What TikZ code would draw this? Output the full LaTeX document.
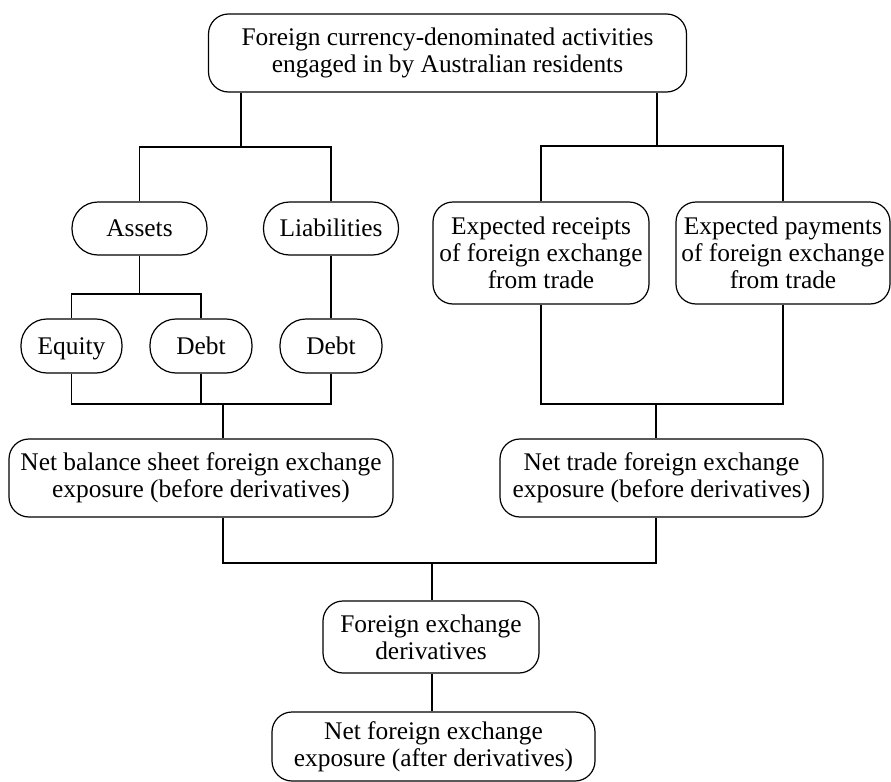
\documentclass[tikz,border=0pt]{standalone}
\usepackage{fontspec}
\setmainfont{Liberation Serif}
\begin{document}
\begin{tikzpicture}[x=0.5pt,y=-0.5pt,line width=0.6pt]
\tikzstyle{box}=[draw, rounded corners=10pt, align=center, inner sep=1pt, font=\fontsize{12.7}{13.4}\selectfont]
\tikzstyle{pill}=[box, rounded corners=13pt, text height=2ex, text depth=0.25ex]
\useasboundingbox (0,0) rectangle (891,782);

\node[box, minimum width=239pt, minimum height=39pt] (top) at (447.5,53) {Foreign currency-denominated activities\\engaged in by Australian residents};

\node[pill, minimum width=67.5pt, minimum height=26.5pt] (assets) at (139.5,228.5) {Assets};
\node[pill, minimum width=67.5pt, minimum height=26.5pt] (liab) at (331,228.5) {Liabilities};
\node[box, minimum width=108pt, minimum height=51pt] (receipts) at (541,253) {Expected receipts\\of foreign exchange\\from trade};
\node[box, minimum width=107pt, minimum height=51pt] (payments) at (783,253) {Expected payments\\of foreign exchange\\from trade};

\node[pill, minimum width=50.5pt, minimum height=27pt] (equity) at (71.5,346) {Equity};
\node[pill, minimum width=51pt, minimum height=27pt] (debtA) at (201,346) {Debt};
\node[pill, minimum width=51pt, minimum height=27pt] (debtL) at (331,346) {Debt};

\node[box, minimum width=192pt, minimum height=39pt] (nb) at (201,478) {Net balance sheet foreign exchange\\exposure (before derivatives)};
\node[box, minimum width=161.5pt, minimum height=39pt] (nt) at (661.5,478) {Net trade foreign exchange\\exposure (before derivatives)};

\node[box, minimum width=108pt, minimum height=36pt] (fx) at (431,637) {Foreign exchange\\derivatives};
\node[box, minimum width=161.5pt, minimum height=34.5pt] (nf) at (433.5,746.5) {Net foreign exchange\\exposure (after derivatives)};

% junctions
\coordinate (jL) at (241,147);
\coordinate (jR) at (657,146);
\coordinate (jA) at (139.5,294);
\coordinate (jB) at (223,404);
\coordinate (jT) at (656,404);
\coordinate (jN) at (432,563);

\draw (top.south -| jL) -- (jL);
\draw (assets.north) |- (jL) -| (liab.north);
\draw (top.south -| jR) -- (jR);
\draw (receipts.north) |- (jR) -| (payments.north);

\draw (assets) -- (jA);
\draw (equity.north) |- (jA) -| (debtA.north);
\draw (liab) -- (debtL);

\draw (equity.south) |- (jB) -| (debtL.south);
\draw (debtA.south) -- (debtA.south |- jB);
\draw (jB) -- (jB |- nb.north);
\draw (receipts.south) |- (jT) -| (payments.south);
\draw (jT) -- (jT |- nt.north);

\draw (nb.south -| jB) |- (jN) -| (nt.south -| jT);
\draw (jN) -- (jN |- fx.north);
\draw (fx.south -| jN) -- (jN |- nf.north);
\end{tikzpicture}
\end{document}
